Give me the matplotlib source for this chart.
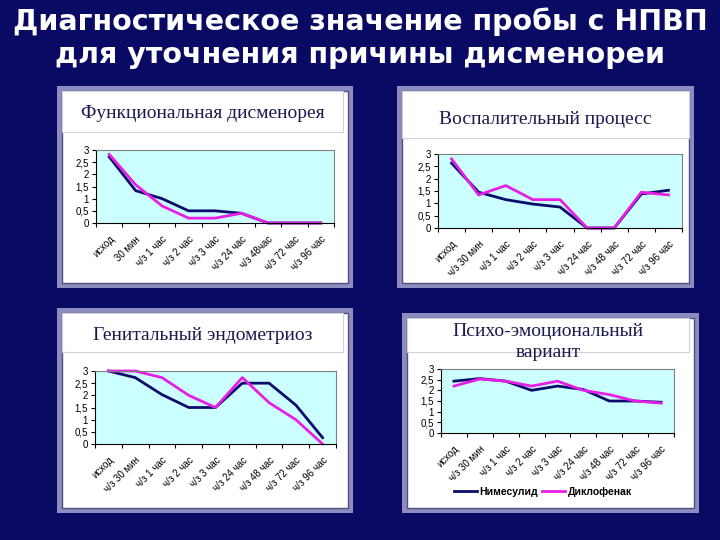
import numpy as np
import matplotlib
matplotlib.use("Agg")
import matplotlib.pyplot as plt
from matplotlib.patches import Rectangle

# Data
cats_func = ["исход", "30 мин", "ч/з 1 час", "ч/з 2 час", "ч/з 3 час",
             "ч/з 24 час", "ч/з 48час", "ч/з 72 час", "ч/з 96 час"]
cats_other = ["исход", "ч/з 30 мин", "ч/з 1 час", "ч/з 2 час", "ч/з 3 час",
              "ч/з 24 час", "ч/з 48 час", "ч/з 72 час", "ч/з 96 час"]

func_nim = [2.72, 1.33, 1.0, 0.5, 0.5, 0.4, 0, 0, 0]
func_dic = [2.82, 1.57, 0.7, 0.2, 0.2, 0.4, 0, 0, 0]

infl_nim = [2.63, 1.45, 1.15, 0.97, 0.85, 0, 0, 1.38, 1.53]
infl_dic = [2.8, 1.34, 1.72, 1.15, 1.15, 0, 0, 1.45, 1.34]

endo_nim = [3.0, 2.73, 2.03, 1.5, 1.5, 2.5, 2.5, 1.6, 0.26]
endo_dic = [3.0, 3.0, 2.73, 2.0, 1.5, 2.73, 1.7, 1.0, 0.0]

psy_nim = [2.43, 2.55, 2.43, 2.0, 2.2, 2.04, 1.5, 1.5, 1.44]
psy_dic = [2.2, 2.53, 2.43, 2.2, 2.43, 2.0, 1.8, 1.5, 1.4]

yticks = [0, 0.5, 1, 1.5, 2, 2.5, 3]
ytick_labels = ["0", "0,5", "1", "1,5", "2", "2,5", "3"]

W, H = 720, 540
BG = "#0a0a64"
NAVY = "#0c0c6a"
MAGENTA = "#e61ee6"

fig = plt.figure(figsize=(7.2, 5.4), dpi=100)
fig.patch.set_facecolor(BG)


def px_rect(x0, y0, x1, y1, **kw):
    # rectangle in pixel coordinates (y from top)
    return Rectangle((x0 / W, 1 - y1 / H), (x1 - x0) / W, (y1 - y0) / H,
                     transform=fig.transFigure, zorder=-5, **kw)


def panel(frame, title_box, title, title_y, ax_px, cats, nim, dic, legend=False):
    x0, y0, x1, y1 = frame
    fig.patches.append(px_rect(x0, y0, x1, y1, facecolor="#8c8cc0", edgecolor="none"))
    fig.patches.append(px_rect(x0 + 5, y0 + 5, x1 - 5, y1 - 5, facecolor="white",
                               edgecolor="#50507e", linewidth=1))
    tx0, ty0, tx1, ty1 = title_box
    fig.patches.append(px_rect(tx0, ty0, tx1, ty1, facecolor="white",
                               edgecolor="#d0d0dc", linewidth=0.8))
    fig.text((tx0 + tx1) / 2 / W, 1 - title_y / H, title, ha="center", va="center",
             fontsize=14, family="Liberation Serif", color="#1a1a50",
             linespacing=1.25)

    ax0, ay0, ax1, ay1 = ax_px
    ax = fig.add_axes([ax0 / W, 1 - ay1 / H, (ax1 - ax0) / W, (ay1 - ay0) / H])
    ax.set_facecolor("#ccffff")
    x = np.arange(len(cats))
    ax.plot(x, nim, color=NAVY, lw=2.0, label="Нимесулид", clip_on=False)
    ax.plot(x, dic, color=MAGENTA, lw=2.0, label="Диклофенак", clip_on=False)
    ax.set_xlim(-0.5, len(cats) - 0.5)
    ax.set_ylim(0, 3)
    ax.set_yticks(yticks)
    ax.set_yticklabels(ytick_labels, family="Liberation Sans", fontsize=7)
    ax.set_xticks(np.arange(len(cats) + 1) - 0.5)
    ax.set_xticklabels([])
    ax.set_xticks(x, minor=True)
    ax.set_xticklabels(cats, minor=True, rotation=45, ha="right",
                       rotation_mode="anchor", family="Liberation Sans", fontsize=7)
    ax.tick_params(axis="x", which="minor", length=0, pad=8)
    ax.tick_params(axis="both", which="major", length=3, width=0.8, pad=2)
    for side in ["top", "right"]:
        ax.spines[side].set_color("#808080")
        ax.spines[side].set_linewidth(0.8)
    for side in ["left", "bottom"]:
        ax.spines[side].set_color("black")
        ax.spines[side].set_linewidth(0.8)
    if legend:
        ax.legend(loc="center", bbox_to_anchor=(543 / W, 1 - 492 / H),
                  bbox_transform=fig.transFigure, ncol=2, frameon=False,
                  prop={"family": "Liberation Sans", "size": 7.5, "weight": "bold"},
                  handlelength=2.2, columnspacing=0.4, handletextpad=0.2)
    return ax


panel((57, 86, 353, 288), (62, 91, 343, 132), "Функциональная дисменорея", 113,
      (96, 150, 334, 223), cats_func, func_nim, func_dic)
panel((397, 86, 694, 288), (402, 91, 689, 138), "Воспалительный процесс", 120,
      (438, 154, 682, 228), cats_other, infl_nim, infl_dic)
panel((57, 308, 353, 513), (62, 313, 343, 352), "Генитальный эндометриоз", 336,
      (95, 371, 336, 444), cats_other, endo_nim, endo_dic)
panel((402, 313, 699, 513), (407, 318, 689, 352), "Психо-эмоциональный\nвариант", 342,
      (441, 369, 674, 433), cats_other, psy_nim, psy_dic, legend=True)

fig.text(0.5, 1 - 22 / H, "Диагностическое значение пробы с НПВП", ha="center",
         va="center", fontsize=20.5, fontweight="bold", family="DejaVu Sans", color="white")
fig.text(0.5, 1 - 55 / H, "для уточнения причины дисменореи", ha="center",
         va="center", fontsize=20.5, fontweight="bold", family="DejaVu Sans", color="white")

fig.savefig("out.png", dpi=100, facecolor=BG)
